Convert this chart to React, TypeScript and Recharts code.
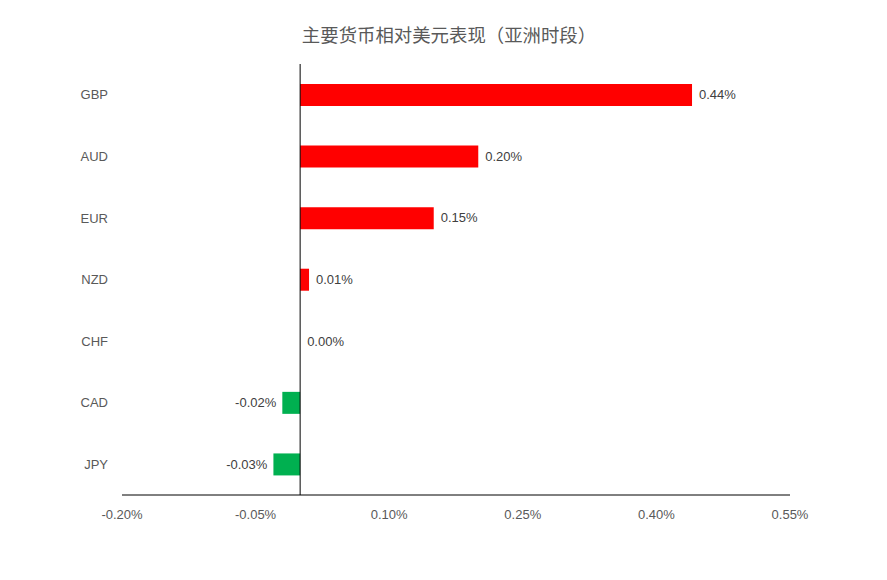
import React from "react";
import { ComposedChart, Bar, Scatter, XAxis, YAxis, Cell, ReferenceLine } from "recharts";

const categories = ["GBP", "AUD", "EUR", "NZD", "CHF", "CAD", "JPY"];
const values = [0.44, 0.2, 0.15, 0.01, 0.0, -0.02, -0.03];
const xTicks = [-0.2, -0.05, 0.1, 0.25, 0.4, 0.55];
const title = "主要货币相对美元表现（亚洲时段）";

const data = categories.map((c, i) => ({ name: c, value: values[i] }));

const fmt = (v: number) => `${Number(v).toFixed(2)}%`;

const LabelShape = (props: any) => {
  const { cx, cy, payload } = props;
  const value = payload.value;
  const neg = value < 0;
  return (
    <text
      x={neg ? cx - 6 : cx + 7}
      y={cy}
      textAnchor={neg ? "end" : "start"}
      dominantBaseline="central"
      fontSize={13}
      fill="#404040"
      fontFamily="'Liberation Sans', Arial, sans-serif"
    >
      {fmt(value)}
    </text>
  );
};

export default function App() {
  return (
    <div style={{ position: "absolute", left: 0, top: 0, width: 887, height: 580, background: "#fff" }}>
      <div
        style={{
          position: "absolute",
          left: 0,
          top: 25,
          width: 898,
          textAlign: "center",
          fontFamily: "'Noto Sans CJK SC', sans-serif",
          fontSize: 18.4,
          lineHeight: "19px",
          color: "#595959",
        }}
      >
        {title}
      </div>
      <ComposedChart
        width={887}
        height={580}
        data={data}
        layout="vertical"
        margin={{ top: 64, right: 97, bottom: 55, left: 0 }}
        barCategoryGap={0}
      >
        <XAxis
          type="number"
          dataKey="value"
          domain={[-0.2, 0.55]}
          ticks={xTicks}
          tickFormatter={fmt}
          axisLine={{ stroke: "#000", strokeWidth: 1 }}
          tickLine={false}
          tickMargin={9}
          height={30}
          tick={{ fontSize: 13, fill: "#595959", fontFamily: "'Liberation Sans', Arial, sans-serif" }}
          allowDataOverflow
        />
        <YAxis
          type="category"
          dataKey="name"
          width={122}
          axisLine={false}
          tickLine={false}
          tickMargin={8}
          tick={{ fontSize: 13, fill: "#595959", fontFamily: "'Liberation Sans', Arial, sans-serif" }}
        />
        <ReferenceLine x={0} stroke="#000" strokeWidth={1} />
        <Bar dataKey="value" barSize={22} isAnimationActive={false}>
          {data.map((d, i) => (
            <Cell key={i} fill={d.value >= 0 ? "#FF0000" : "#00B050"} />
          ))}
        </Bar>
        <Scatter dataKey="value" shape={LabelShape} isAnimationActive={false} />
      </ComposedChart>
    </div>
  );
}
